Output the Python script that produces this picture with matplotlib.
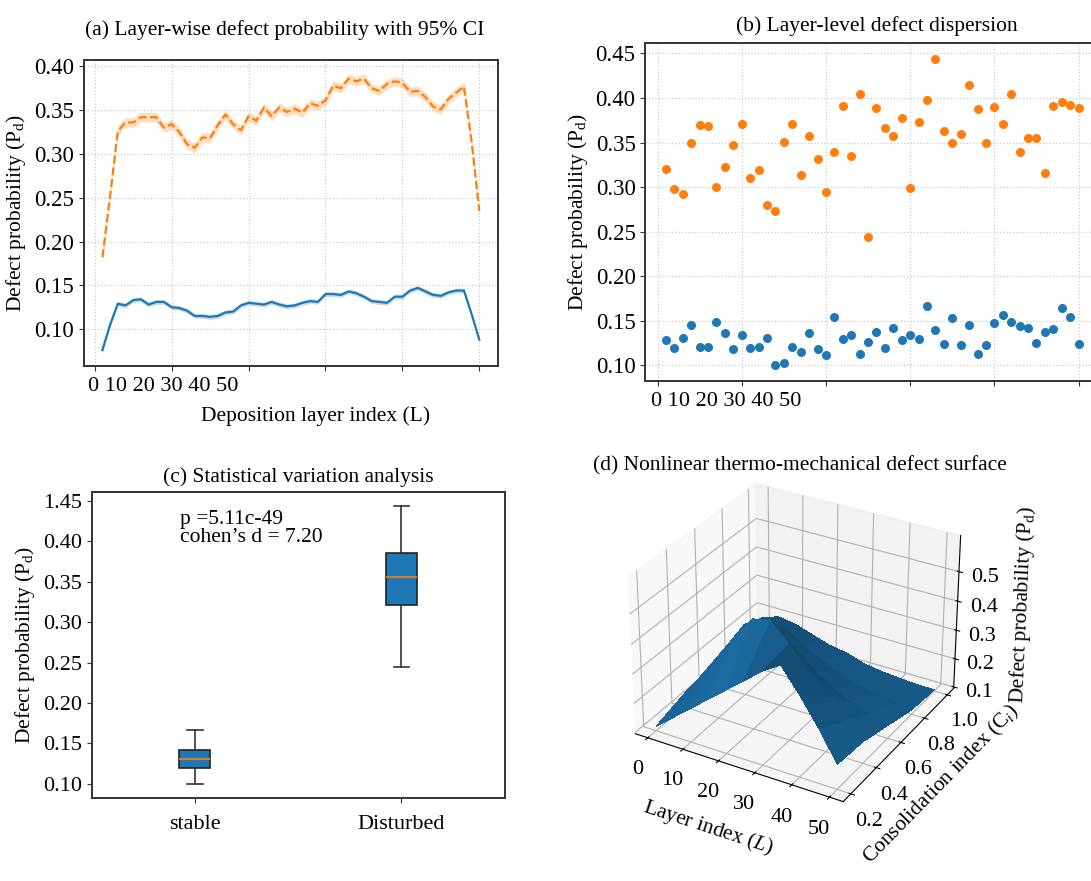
import numpy as np
import matplotlib.pyplot as plt

plt.rcParams['font.family'] = ['Liberation Serif', 'DejaVu Serif']
plt.rcParams['mathtext.fontset'] = 'custom'
plt.rcParams['mathtext.rm'] = 'Liberation Serif'
plt.rcParams['mathtext.it'] = 'Liberation Serif:italic'
plt.rcParams['font.size'] = 16

# layer-level defect probability
layers = np.arange(1, 51)
stable = [0.128, 0.119, 0.131, 0.145, 0.120, 0.120, 0.148, 0.136, 0.118, 0.134,
          0.119, 0.120, 0.131, 0.100, 0.103, 0.121, 0.115, 0.136, 0.118, 0.111,
          0.154, 0.130, 0.134, 0.113, 0.126, 0.137, 0.119, 0.142, 0.128, 0.134,
          0.130, 0.167, 0.140, 0.124, 0.153, 0.123, 0.145, 0.113, 0.123, 0.147,
          0.156, 0.148, 0.144, 0.142, 0.125, 0.137, 0.141, 0.164, 0.154, 0.124]
disturbed = [0.320, 0.298, 0.292, 0.349, 0.370, 0.369, 0.300, 0.322, 0.347, 0.371,
             0.310, 0.319, 0.280, 0.273, 0.351, 0.371, 0.313, 0.357, 0.332, 0.295,
             0.339, 0.391, 0.335, 0.405, 0.244, 0.389, 0.366, 0.357, 0.378, 0.299,
             0.373, 0.398, 0.444, 0.363, 0.350, 0.360, 0.414, 0.388, 0.350, 0.390,
             0.371, 0.405, 0.339, 0.355, 0.355, 0.316, 0.391, 0.396, 0.392, 0.389]

# smoothed curves of panel (a)
stable_curve = [0.076, 0.105, 0.129, 0.127, 0.133, 0.134, 0.128, 0.131, 0.131, 0.125,
                0.124, 0.121, 0.115, 0.115, 0.114, 0.115, 0.119, 0.120, 0.127, 0.130,
                0.129, 0.128, 0.131, 0.128, 0.126, 0.127, 0.130, 0.132, 0.131, 0.140,
                0.140, 0.139, 0.143, 0.141, 0.137, 0.132, 0.131, 0.130, 0.137, 0.137,
                0.144, 0.147, 0.143, 0.139, 0.138, 0.142, 0.144, 0.144, 0.117, 0.088]
disturbed_curve = [0.182, 0.252, 0.326, 0.336, 0.336, 0.342, 0.342, 0.342, 0.330, 0.334,
                   0.325, 0.311, 0.307, 0.319, 0.318, 0.333, 0.345, 0.334, 0.327, 0.343,
                   0.338, 0.353, 0.343, 0.353, 0.348, 0.352, 0.347, 0.358, 0.355, 0.361,
                   0.378, 0.375, 0.386, 0.383, 0.386, 0.375, 0.372, 0.380, 0.383, 0.381,
                   0.371, 0.372, 0.365, 0.354, 0.351, 0.363, 0.370, 0.377, 0.314, 0.235]
stable_ci = 0.0028
disturbed_ci = 0.0055

tick_layers = [0, 10, 20, 30, 40, 50]
a_yticks = [0.10, 0.15, 0.20, 0.25, 0.30, 0.35, 0.40]
b_yticks = [0.10, 0.15, 0.20, 0.25, 0.30, 0.35, 0.40, 0.45]
box_labels = ['stable', 'Disturbed']
box_yticklabels = ['0.10', '0.15', '0.20', '0.25', '0.30', '0.35', '0.40', '1.45']

# defect surface (rows: consolidation index, cols: layer index)
surf_layers = [0, 5, 10, 15, 20, 25, 30, 35, 40, 45, 50]
surf_cons = [0.2, 0.4, 0.6, 0.8, 1.0]
surf_p = [[0.11, 0.16, 0.21, 0.26, 0.31, 0.36, 0.41, 0.45, 0.37, 0.28, 0.18],
          [0.14, 0.22, 0.30, 0.39, 0.47, 0.48, 0.42, 0.35, 0.28, 0.22, 0.17],
          [0.16, 0.25, 0.34, 0.38, 0.35, 0.30, 0.25, 0.21, 0.18, 0.16, 0.14],
          [0.17, 0.24, 0.28, 0.26, 0.22, 0.19, 0.16, 0.14, 0.13, 0.12, 0.11],
          [0.18, 0.20, 0.19, 0.17, 0.15, 0.14, 0.12, 0.11, 0.105, 0.10, 0.10]]

blue = '#1f77b4'
orange = '#ff7f0e'
spine_c = '#333333'
ylab = 'Defect probability (P$_\\mathregular{d}$)'
title_fs = 15.5
label_fs = 15.5


def style(ax, grid=True):
    for s in ax.spines.values():
        s.set_color(spine_c)
        s.set_linewidth(1.4)
    ax.tick_params(colors=spine_c, labelcolor='black', length=3.5, width=0.8, labelsize=16.5)
    if grid:
        ax.grid(True, ls=':', color='#cccccc', lw=0.9)
        ax.set_axisbelow(True)


fig = plt.figure(figsize=(10.91, 8.81), dpi=100)

# (a)
ax1 = fig.add_axes([0.0766, 0.584, 0.380, 0.348])
s_curve = np.array(stable_curve)
d_curve = np.array(disturbed_curve)
ax1.fill_between(layers, s_curve - stable_ci, s_curve + stable_ci, color=blue, alpha=0.25, lw=0)
ax1.plot(layers, s_curve, color=blue, lw=1.6)
ax1.fill_between(layers, d_curve - disturbed_ci, d_curve + disturbed_ci, color=orange, alpha=0.25, lw=0)
ax1.plot(layers, d_curve, color=orange, ls='--', lw=1.6)
ax1.set_xticks(tick_layers)
ax1.set_xticklabels([])
ax1.set_yticks(a_yticks)
style(ax1)
ax1.text(0.01, -0.035, ' '.join(str(t) for t in tick_layers), transform=ax1.transAxes,
         ha='left', va='top', fontsize=16)
ax1.set_xlabel('Deposition layer index (L)', fontsize=label_fs)
ax1.xaxis.set_label_coords(0.56, -0.13)
ax1.set_ylabel(ylab, fontsize=label_fs)
ax1.set_title('(a) Layer-wise defect probability with 95% CI', pad=18, fontsize=title_fs, x=0.485)

# (b)
ax2 = fig.add_axes([0.5915, 0.568, 0.416, 0.3827])
ax2.scatter(layers, disturbed, s=30, color=orange, zorder=3)
ax2.scatter(layers, stable, s=30, color=blue, zorder=3)
ax2.set_xticks(tick_layers)
ax2.set_xticklabels([])
ax2.set_yticks(b_yticks)
style(ax2)
ax2.text(0.012, -0.035, ' '.join(str(t) for t in tick_layers), transform=ax2.transAxes,
         ha='left', va='top', fontsize=16)
ax2.set_ylabel(ylab, fontsize=label_fs)
ax2.set_title('(b) Layer-level defect dispersion', pad=9, x=0.51, fontsize=title_fs)

# (c)
ax3 = fig.add_axes([0.084, 0.0944, 0.3785, 0.3476])
bp = ax3.boxplot([stable, disturbed], widths=0.15, patch_artist=True,
                 medianprops=dict(color=orange, lw=1.2),
                 boxprops=dict(facecolor=blue, edgecolor='#222222', lw=1.2),
                 whiskerprops=dict(color=spine_c, lw=1.2),
                 capprops=dict(color=spine_c, lw=1.2))
ax3.set_xticks([1, 2])
ax3.set_xticklabels(box_labels)
ax3.set_yticks(b_yticks)
ax3.set_yticklabels(box_yticklabels)
style(ax3, grid=False)
ax3.tick_params(axis='x', pad=9, labelsize=16)
ax3.tick_params(axis='y', labelsize=16)
ax3.text(0.213, 0.94, 'p =5.11c-49\ncohen\u2019s d = 7.20', transform=ax3.transAxes,
         ha='left', va='top', linespacing=0.95, fontsize=15.5)
ax3.set_ylabel(ylab, fontsize=label_fs)
ax3.set_title('(c) Statistical variation analysis', pad=7, fontsize=title_fs)

# (d)
ax4 = fig.add_axes([0.5545, 0.0636, 0.3437, 0.42], projection='3d')
Lg, Cg = np.meshgrid(surf_layers, surf_cons)
ax4.plot_surface(Lg, Cg, np.array(surf_p), color=blue, alpha=1.0, linewidth=0,
                 antialiased=False, shade=True)
ax4.set_xlim(-3.6, 53.6)
ax4.set_ylim(0.142, 1.058)
ax4.set_zlim(0.095, 0.62)
ax4.set_xticks(tick_layers)
ax4.set_yticks([0.2, 0.4, 0.6, 0.8, 1.0])
ax4.set_zticks([0.1, 0.2, 0.3, 0.4, 0.5])
ax4.tick_params(labelsize=16)
ax4.set_xlabel('Layer index ($\\mathit{L}$)', labelpad=10, fontsize=label_fs)
ax4.set_ylabel('Consolidation index (C$_\\mathit{i}$)', labelpad=6, fontsize=label_fs)
ax4.set_zlabel(ylab, labelpad=8, fontsize=label_fs)
fig.text(0.733, 0.471, '(d) Nonlinear thermo-mechanical defect surface',
         ha='center', va='center', fontsize=title_fs)

fig.savefig('out.png', dpi=100)
